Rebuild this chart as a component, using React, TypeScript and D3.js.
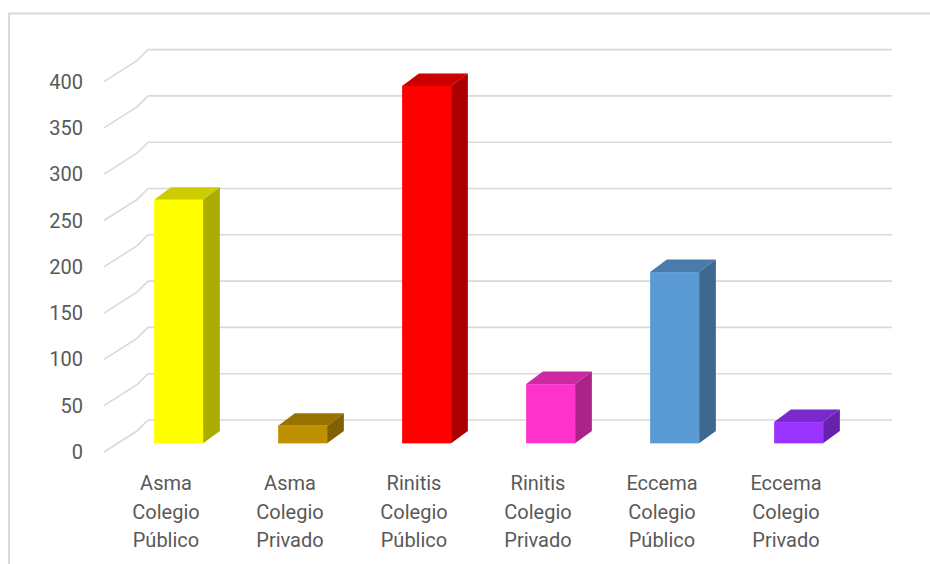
import React from "react";
import * as d3 from "d3";

const categories: string[][] = [
  ["Asma", "Colegio", "Público"],
  ["Asma", "Colegio", "Privado"],
  ["Rinitis", "Colegio", "Público"],
  ["Rinitis", "Colegio", "Privado"],
  ["Eccema", "Colegio", "Público"],
  ["Eccema", "Colegio", "Privado"],
];
const values: number[] = [263, 19, 386, 64, 185, 23];
const frontColors: string[] = ["#FFFF00", "#BF9000", "#FF0000", "#FF33CC", "#5B9BD5", "#9933FF"];
const yTicks: number[] = [0, 50, 100, 150, 200, 250, 300, 350, 400];

const W = 930;
const H = 564;
const FONT = "Roboto, 'Liberation Sans', sans-serif";

export default function App() {
  const keys = categories.map((_, i) => String(i));
  const x = d3.scaleBand<string>().domain(keys).range([105, 849]).padding(0);
  const y = d3.scaleLinear().domain([0, 400]).range([452, 81.6]);
  const DX = 43;
  const DY = -32;
  const z0 = 0.27;
  const z1 = 0.66;
  const barW = x.bandwidth() * 0.395;

  const darker = (c: string, k: number) => {
    const col = d3.rgb(c);
    return d3.rgb(col.r * k, col.g * k, col.b * k).formatHex();
  };

  return (
    <svg width={W} height={H} style={{ display: "block", position: "absolute", left: 0, top: 0 }}>
      <rect x={0} y={0} width={W} height={H} fill="#ffffff" />
      <rect x={9} y={13.5} width={W + 20} height={H + 20} fill="none" stroke="#d9d9d9" strokeWidth={2} />
      {yTicks.map((t) => {
        const yf = y(t);
        const yb = yf + DY;
        return (
          <g key={t}>
            <path
              d={`M${105 - 1},${yf} L${105 + 32},${yf - 21} L${105 + DX},${yb}`}
              fill="none"
              stroke="#d9d9d9"
              strokeWidth={1.6}
            />
            <line x1={105 + DX} x2={849 + DX} y1={yb} y2={yb} stroke="#d9d9d9" strokeWidth={1.6} />
            <text
              x={83}
              y={yf}
              textAnchor="end"
              dominantBaseline="central"
              fontFamily={FONT}
              fontSize={20}
              fill="#595959"
            >
              {t}
            </text>
          </g>
        );
      })}
      {values.map((v, i) => {
        const xc = (x(keys[i]) as number) + x.bandwidth() / 2;
        const fx0 = xc - barW / 2 + z0 * DX;
        const fx1 = fx0 + barW;
        const ybot = y(0) + z0 * DY;
        const ytop = y(v) + z0 * DY;
        const ddx = (z1 - z0) * DX;
        const ddy = (z1 - z0) * DY;
        const c = frontColors[i];
        return (
          <g key={i}>
            <polygon
              points={`${fx0},${ytop} ${fx1},${ytop} ${fx1 + ddx},${ytop + ddy} ${fx0 + ddx},${ytop + ddy}`}
              fill={darker(c, 0.8)}
            />
            <polygon
              points={`${fx1},${ytop} ${fx1 + ddx},${ytop + ddy} ${fx1 + ddx},${ybot + ddy} ${fx1},${ybot}`}
              fill={darker(c, 0.67)}
            />
            <rect x={fx0} y={ytop} width={barW} height={ybot - ytop} fill={c} />
          </g>
        );
      })}
      {categories.map((lines, i) => {
        const xc = (x(keys[i]) as number) + x.bandwidth() / 2;
        return (
          <text key={i} fontFamily={FONT} fontSize={20} fill="#595959" textAnchor="middle">
            {lines.map((l, j) => (
              <tspan key={j} x={xc - 1} y={483 + j * 28.5} dominantBaseline="central">
                {l}
              </tspan>
            ))}
          </text>
        );
      })}
    </svg>
  );
}
